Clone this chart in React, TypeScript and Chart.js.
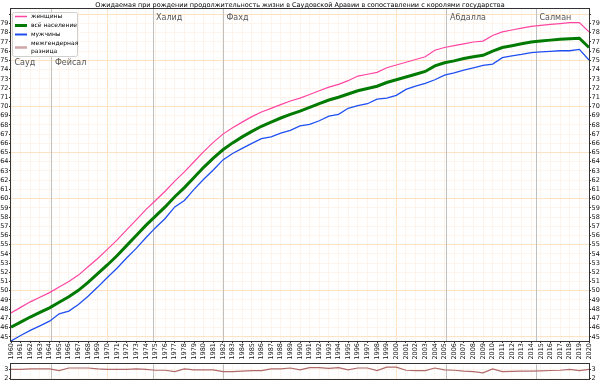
import React, { useEffect, useRef } from 'react';
import { Chart, registerables } from 'chart.js';

Chart.register(...registerables);

const title =
  'Ожидаемая при рождении продолжительность жизни в Саудовской Аравии в сопоставлении с королями государства';

const years = [
  1960, 1961, 1962, 1963, 1964, 1965, 1966, 1967, 1968, 1969,
  1970, 1971, 1972, 1973, 1974, 1975, 1976, 1977, 1978, 1979,
  1980, 1981, 1982, 1983, 1984, 1985, 1986, 1987, 1988, 1989,
  1990, 1991, 1992, 1993, 1994, 1995, 1996, 1997, 1998, 1999,
  2000, 2001, 2002, 2003, 2004, 2005, 2006, 2007, 2008, 2009,
  2010, 2011, 2012, 2013, 2014, 2015, 2016, 2017, 2018, 2019,
  2020,
];

const female = [
  47.6, 48.2, 48.8, 49.3, 49.8, 50.4, 51.0, 51.7, 52.6, 53.5,
  54.5, 55.5, 56.6, 57.7, 58.8, 59.8, 60.8, 61.9, 62.9, 64.0,
  65.1, 66.1, 67.0, 67.7, 68.3, 68.9, 69.4, 69.8, 70.2, 70.6,
  70.9, 71.3, 71.7, 72.1, 72.4, 72.8, 73.3, 73.5, 73.7, 74.2,
  74.5, 74.8, 75.1, 75.4, 76.1, 76.4, 76.6, 76.8, 77.0, 77.1,
  77.7, 78.1, 78.3, 78.5, 78.7, 78.8, 78.9, 79.0, 79.1, 79.1,
  78.1,
];

const total = [
  46.05, 46.6, 47.15, 47.65, 48.15, 48.75, 49.35, 50.05, 50.9, 51.85,
  52.8, 53.8, 54.9, 56.0, 57.1, 58.1, 59.1, 60.2, 61.2, 62.3,
  63.4, 64.4, 65.3, 66.05, 66.7, 67.3, 67.85, 68.3, 68.75, 69.15,
  69.5, 69.9, 70.3, 70.7, 71.0, 71.35, 71.7, 71.95, 72.2, 72.6,
  72.9, 73.2, 73.5, 73.8, 74.4, 74.75, 74.95, 75.2, 75.4, 75.55,
  76.0, 76.4, 76.6, 76.8, 77.0, 77.1, 77.2, 77.3, 77.35, 77.4,
  76.4,
];

const male = [
  44.55, 45.15, 45.7, 46.2, 46.7, 47.5, 47.8, 48.5, 49.4, 50.4,
  51.45, 52.45, 53.55, 54.6, 55.75, 56.85, 57.85, 59.1, 59.8, 61.0,
  62.1, 63.1, 64.2, 64.9, 65.45, 66.0, 66.5, 66.7, 67.1, 67.4,
  67.9, 68.05, 68.45, 68.95, 69.15, 69.8, 70.1, 70.3, 70.8, 70.9,
  71.2, 71.85, 72.2, 72.5, 72.9, 73.4, 73.65, 73.95, 74.2, 74.45,
  74.6, 75.3, 75.48, 75.65, 75.85, 75.92, 75.98, 76.05, 76.05, 76.2,
  75.05,
];

const gap = [
  3.05, 3.05, 3.1, 3.1, 3.1, 2.9, 3.2, 3.2, 3.2, 3.1,
  3.05, 3.05, 3.05, 3.1, 3.05, 2.95, 2.95, 2.8, 3.1, 3.0,
  3.0, 3.0, 2.8, 2.8, 2.85, 2.9, 2.9, 3.1, 3.1, 3.2,
  3.0, 3.25, 3.25, 3.15, 3.25, 3.0, 3.2, 3.2, 2.9, 3.3,
  3.3, 2.95, 2.9, 2.9, 3.2, 3.0, 2.95, 2.85, 2.8, 2.65,
  3.1, 2.8, 2.82, 2.85, 2.85, 2.88, 2.92, 2.95, 3.05, 2.9,
  3.05,
];

const kingNames = ['Сауд', 'Фейсал', 'Халид', 'Фахд', 'Абдалла', 'Салман'];
const kingYears = [1960, 1964.2, 1974.7, 1982.0, 2005.2, 2014.5];

const mainYTicks = [
  45, 46, 47, 48, 49, 50, 51, 52, 53, 54, 55, 56, 57, 58, 59, 60, 61, 62,
  63, 64, 65, 66, 67, 68, 69, 70, 71, 72, 73, 74, 75, 76, 77, 78, 79, 80,
];
const gapYTicks = [2, 3];
const majorGridYears = [1970, 2000];

const legendLabels = ['женщины', 'всё население', 'мужчины', 'межгендерная разница'];

const FONT = '"DejaVu Sans", "Liberation Sans", sans-serif';
const C_FEMALE = '#ff45a2';
const C_TOTAL = '#007a00';
const C_MALE = '#1f4ff0';
const C_GAP = '#b06a6a';
const C_KING = '#c0c0c0';
const GRID_MINOR = '#fdf5ec';
const GRID_MAJOR = '#fde3c3';
const AXIS = '#333333';

function xScale(showLabels: boolean) {
  return {
    type: 'linear',
    min: 1960,
    max: 2020,
    afterBuildTicks: (s: any) => {
      s.ticks = years.map((v) => ({ value: v }));
    },
    grid: {
      color: (c: any) =>
        c.tick && majorGridYears.includes(c.tick.value) ? GRID_MAJOR : GRID_MINOR,
      lineWidth: 1,
      drawTicks: showLabels,
      tickLength: 2,
      tickColor: AXIS,
    },
    border: { display: false },
    ticks: {
      display: showLabels,
      autoSkip: false,
      minRotation: 90,
      maxRotation: 90,
      padding: 0,
      color: '#111',
      font: { family: FONT, size: 6.5 },
      callback: (v: any) => String(v),
    },
    afterFit: (s: any) => {
      s.height = showLabels ? 19 : 4;
    },
  };
}

function yScale(
  position: 'left' | 'right',
  min: number,
  max: number,
  ticksArr: number[],
  onChart: boolean,
  isMain: boolean
) {
  return {
    type: 'linear',
    position,
    min,
    max,
    afterBuildTicks: (s: any) => {
      s.ticks = ticksArr.map((v) => ({ value: v }));
    },
    grid: {
      drawOnChartArea: onChart,
      color: (c: any) =>
        c.tick && c.tick.value % 5 === 0 && isMain ? GRID_MAJOR : GRID_MINOR,
      drawTicks: true,
      tickLength: 2,
      tickColor: AXIS,
    },
    border: { display: false },
    ticks: {
      autoSkip: false,
      padding: 0.5,
      color: '#111',
      font: { family: FONT, size: 6.5 },
      callback: (v: any) => (isMain && v === 80 ? '' : String(v)),
    },
    afterFit: (s: any) => {
      s.width = 11;
    },
  };
}

function kingPlugin(showLabels: boolean) {
  return {
    id: 'kings' + (showLabels ? 'Main' : 'Gap'),
    beforeDatasetsDraw(chart: any) {
      const { ctx, chartArea } = chart;
      const x = chart.scales.x;
      ctx.save();
      ctx.strokeStyle = C_KING;
      ctx.lineWidth = 1;
      kingYears.forEach((yr, i) => {
        if (i === 0) return;
        const px = Math.round(x.getPixelForValue(yr)) + 0.5;
        ctx.beginPath();
        ctx.moveTo(px, chartArea.top);
        ctx.lineTo(px, chartArea.bottom);
        ctx.stroke();
      });
      if (showLabels) {
        ctx.font = `8px ${FONT}`;
        ctx.fillStyle = '#555';
        ctx.textBaseline = 'middle';
        ctx.textAlign = 'left';
        kingYears.forEach((yr, i) => {
          const px = x.getPixelForValue(yr);
          const ty = i < 2 ? chartArea.top + 54 : chartArea.top + 8.7;
          ctx.fillText(kingNames[i], px + 3.5, ty);
        });
      }
      ctx.restore();
    },
  };
}

const framePlugin = {
  id: 'frame',
  afterDraw(chart: any) {
    const { ctx, chartArea } = chart;
    ctx.save();
    ctx.strokeStyle = AXIS;
    ctx.lineWidth = 1;
    ctx.strokeRect(
      Math.round(chartArea.left) - 0.5,
      Math.round(chartArea.top) - 0.5,
      Math.round(chartArea.right - chartArea.left) + 1,
      Math.round(chartArea.bottom - chartArea.top) + 1
    );
    ctx.restore();
  },
};

const legendPlugin = {
  id: 'legendBox',
  afterDraw(chart: any) {
    const { ctx } = chart;
    ctx.save();
    ctx.fillStyle = 'rgba(255,255,255,0.9)';
    ctx.strokeStyle = '#cfcfcf';
    ctx.lineWidth = 1;
    ctx.beginPath();
    if (ctx.roundRect) ctx.roundRect(12.5, 12.5, 65, 44, 2);
    else ctx.rect(12.5, 12.5, 65, 44);
    ctx.fill();
    ctx.stroke();
    const rows = [
      { color: C_FEMALE, w: 1.5, y: 16.5, lines: [legendLabels[0]] },
      { color: C_TOTAL, w: 3, y: 25.5, lines: [legendLabels[1]] },
      { color: C_MALE, w: 2, y: 34.5, lines: [legendLabels[2]] },
      { color: C_GAP, w: 2.5, y: 47.5, lines: legendLabels[3].split(' ') },
    ];
    ctx.font = `6px ${FONT}`;
    ctx.textBaseline = 'middle';
    ctx.textAlign = 'left';
    rows.forEach((r) => {
      ctx.strokeStyle = r.color;
      ctx.globalAlpha = r.color === C_GAP ? 0.6 : 1;
      ctx.lineWidth = r.w;
      ctx.beginPath();
      ctx.moveTo(15, r.y);
      ctx.lineTo(27, r.y);
      ctx.stroke();
      ctx.globalAlpha = 1;
      ctx.fillStyle = '#000';
      const n = r.lines.length;
      r.lines.forEach((t, k) => {
        ctx.fillText(t, 31, r.y + (k - (n - 1) / 2) * 8.2);
      });
    });
    ctx.restore();
  },
};

function series(values: number[]) {
  return years.map((yr, i) => ({ x: yr, y: values[i] }));
}

export default function App() {
  const mainRef = useRef<HTMLCanvasElement>(null);
  const gapRef = useRef<HTMLCanvasElement>(null);

  useEffect(() => {
    const main = new Chart(mainRef.current as HTMLCanvasElement, {
      type: 'line',
      data: {
        datasets: [
          {
            label: legendLabels[0],
            data: series(female),
            borderColor: C_FEMALE,
            borderWidth: 1.2,
            pointRadius: 0,
            tension: 0,
          },
          {
            label: legendLabels[1],
            data: series(total),
            borderColor: C_TOTAL,
            borderWidth: 3,
            pointRadius: 0,
            tension: 0,
          },
          {
            label: legendLabels[2],
            data: series(male),
            borderColor: C_MALE,
            borderWidth: 1.3,
            pointRadius: 0,
            tension: 0,
          },
        ],
      },
      options: {
        responsive: false,
        maintainAspectRatio: false,
        animation: false,
        events: [],
        layout: { padding: 0 },
        plugins: {
          legend: { display: false },
          tooltip: { enabled: false },
          title: {
            display: true,
            text: title,
            color: '#000',
            font: { family: FONT, size: 6.5, weight: 'normal' },
            padding: { top: 1, bottom: 0 },
          },
        },
        scales: {
          x: xScale(true) as any,
          y: yScale('left', 44.55, 80.6, mainYTicks, true, true) as any,
          y2: yScale('right', 44.55, 80.6, mainYTicks, false, true) as any,
        },
      },
      plugins: [kingPlugin(true), framePlugin, legendPlugin],
    });

    const gapChart = new Chart(gapRef.current as HTMLCanvasElement, {
      type: 'line',
      data: {
        datasets: [
          {
            label: legendLabels[3],
            data: series(gap),
            borderColor: C_GAP,
            borderWidth: 1.2,
            pointRadius: 0,
            tension: 0,
          },
        ],
      },
      options: {
        responsive: false,
        maintainAspectRatio: false,
        animation: false,
        events: [],
        layout: { padding: { top: 4 } },
        plugins: {
          legend: { display: false },
          tooltip: { enabled: false },
          title: { display: false },
        },
        scales: {
          x: xScale(false) as any,
          y: yScale('left', 1.89, 3.61, gapYTicks, true, false) as any,
          y2: yScale('right', 1.89, 3.61, gapYTicks, false, false) as any,
        },
      },
      plugins: [kingPlugin(false), framePlugin],
    });

    return () => {
      main.destroy();
      gapChart.destroy();
    };
  }, []);

  return (
    <div
      style={{
        position: 'fixed',
        left: 0,
        top: 0,
        width: 600,
        height: 384,
        background: '#ffffff',
      }}
    >
      <canvas
        ref={mainRef}
        width={600}
        height={360}
        style={{ position: 'absolute', left: 0, top: 0, width: 600, height: 360 }}
      />
      <canvas
        ref={gapRef}
        width={600}
        height={24}
        style={{ position: 'absolute', left: 0, top: 360, width: 600, height: 24 }}
      />
    </div>
  );
}
